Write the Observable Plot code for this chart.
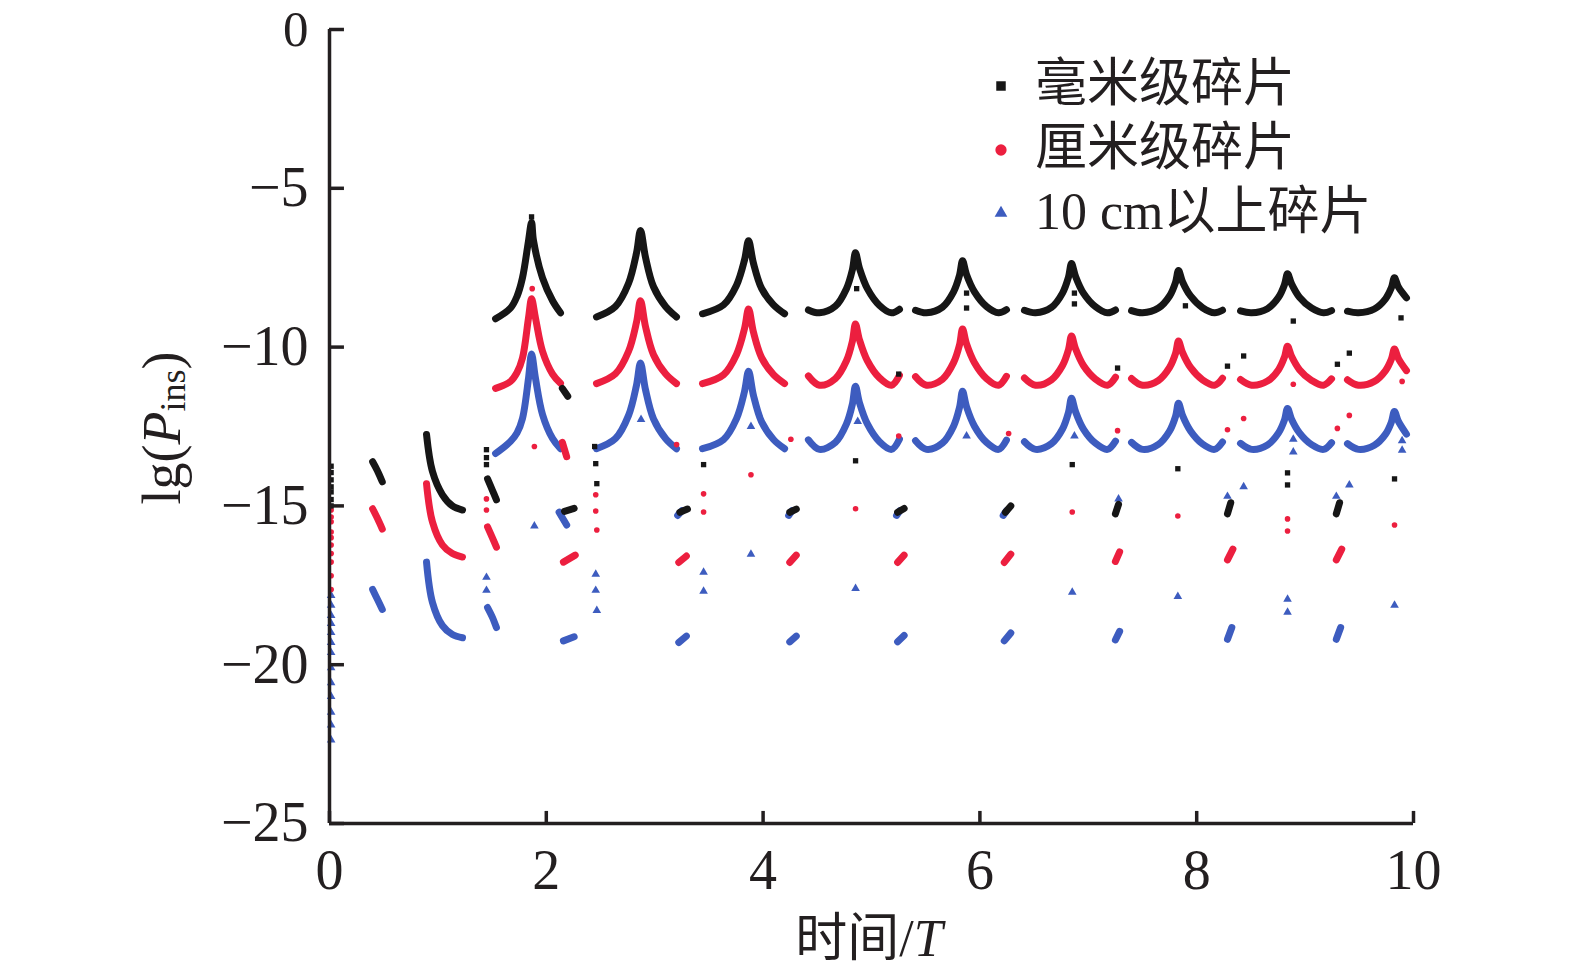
<!DOCTYPE html>
<html>
<head>
<meta charset="utf-8">
<script src="https://cdn.jsdelivr.net/npm/d3@7"></script>
<script src="https://cdn.jsdelivr.net/npm/@observablehq/plot@0.6"></script>
<style>
  html, body { margin: 0; padding: 0; background: #fff; overflow: hidden; width: 1575px; height: 977px; }
  #chart { width: 1575px; height: 977px; overflow: hidden; position: relative; }
  #chart svg { display: block; max-width: none !important; }
</style>
</head>
<body>
<div id="chart"></div>
<script>
// ---------- axes ----------
const xTicks = [0, 2, 4, 6, 8, 10];
const yTicks = [0, -5, -10, -15, -20, -25];
const seriesNames = ["毫米级碎片", "厘米级碎片", "10 cm以上碎片"];
const seriesColors = ["#161616", "#ec1f3f", "#3d5cbf"];

// ---------- early curve pieces (time/T, lg P) ----------
const mmEarly = [
  [[0.398,-13.61],[0.443,-13.9],[0.487,-14.24]],
  [[0.895,-12.75],[0.950,-13.92],[1.042,-14.65],[1.134,-15.0],[1.227,-15.13]],
  [[1.458,-14.15],[1.502,-14.5],[1.540,-14.81]],
  [[1.532,-9.11],[1.670,-8.77],[1.730,-8.4],[1.780,-7.82],[1.836,-6.65],[1.864,-6.08],[1.882,-6.65],[1.965,-7.82],[2.058,-8.54],[2.131,-8.92]],
  [[2.148,-11.3],[2.198,-11.55]]
];
const cmEarly = [
  [[0.398,-15.09],[0.443,-15.4],[0.487,-15.73]],
  [[0.895,-14.30],[0.950,-15.51],[1.042,-16.23],[1.134,-16.5],[1.227,-16.61]],
  [[1.458,-15.66],[1.502,-16.0],[1.540,-16.30]],
  [[1.532,-11.30],[1.670,-11.08],[1.730,-10.8],[1.780,-10.35],[1.836,-9.08],[1.864,-8.48],[1.900,-9.08],[1.965,-10.13],[2.058,-10.85],[2.131,-11.14]],
  [[2.148,-13.0],[2.188,-13.45]]
];
const dmEarly = [
  [[0.398,-17.63],[0.443,-17.95],[0.487,-18.26]],
  [[0.895,-16.77],[0.950,-18.04],[1.042,-18.77],[1.134,-19.05],[1.227,-19.15]],
  [[1.458,-18.2],[1.502,-18.5],[1.540,-18.83]],
  [[1.532,-13.35],[1.670,-12.97],[1.730,-12.7],[1.780,-12.25],[1.836,-10.98],[1.864,-10.22],[1.900,-10.98],[1.965,-12.12],[2.058,-12.88],[2.131,-13.20]],
  [[2.118,-15.2],[2.188,-15.6]]
];

// ---------- periodic cusps 2..9: x read per cusp, y per series ----------
const cuspX = [
  [2.463,2.638,2.759,2.832,2.869,2.915,2.989,3.100,3.201],
  [3.441,3.635,3.755,3.829,3.866,3.911,3.986,4.096,4.198],
  [4.418,4.520,4.667,4.769,4.824,4.852,4.889,4.962,5.074,5.184,5.258],
  [5.406,5.507,5.655,5.757,5.812,5.840,5.876,5.950,6.061,6.172,6.245],
  [6.411,6.513,6.660,6.762,6.817,6.845,6.882,6.955,7.067,7.177,7.251],
  [7.399,7.500,7.647,7.750,7.805,7.832,7.869,7.943,8.054,8.165,8.238],
  [8.404,8.506,8.653,8.755,8.810,8.838,8.875,8.948,9.060,9.170,9.244],
  [9.391,9.492,9.639,9.742,9.796,9.824,9.861,9.935]
];
const mmCuspY = [
  [-9.05,-8.72,-7.99,-7.04,-6.33,-7.17,-8.10,-8.72,-9.05],
  [-8.95,-8.67,-8.05,-7.25,-6.65,-7.36,-8.15,-8.67,-8.95],
  [-8.83,-8.92,-8.71,-8.16,-7.56,-7.03,-7.52,-8.16,-8.69,-8.92,-8.81],
  [-8.84,-8.92,-8.74,-8.26,-7.74,-7.28,-7.71,-8.26,-8.72,-8.92,-8.82],
  [-8.84,-8.92,-8.75,-8.30,-7.80,-7.37,-7.77,-8.30,-8.73,-8.92,-8.83],
  [-8.85,-8.92,-8.77,-8.39,-7.96,-7.59,-7.94,-8.39,-8.76,-8.92,-8.84],
  [-8.86,-8.92,-8.79,-8.43,-8.03,-7.69,-8.01,-8.43,-8.77,-8.92,-8.85],
  [-8.87,-8.92,-8.80,-8.48,-8.13,-7.82,-8.11,-8.45]
];
const cmCuspY = [
  [-11.15,-10.84,-10.13,-9.22,-8.54,-9.35,-10.24,-10.84,-11.15],
  [-11.15,-10.87,-10.23,-9.41,-8.8,-9.53,-10.33,-10.87,-11.15],
  [-10.91,-11.2,-10.99,-10.43,-9.81,-9.27,-9.77,-10.43,-10.97,-11.2,-10.89],
  [-10.93,-11.2,-11.01,-10.49,-9.93,-9.43,-9.89,-10.49,-10.99,-11.2,-10.92],
  [-10.97,-11.2,-11.03,-10.58,-10.08,-9.65,-10.05,-10.58,-11.01,-11.2,-10.95],
  [-10.99,-11.2,-11.05,-10.64,-10.20,-9.81,-10.17,-10.64,-11.03,-11.2,-10.98],
  [-11.02,-11.2,-11.07,-10.71,-10.31,-9.97,-10.29,-10.71,-11.05,-11.2,-11.0],
  [-11.03,-11.2,-11.08,-10.74,-10.38,-10.06,-10.36,-10.74]
];
const dmCuspY = [
  [-13.2,-12.88,-12.15,-11.2,-10.5,-11.34,-12.26,-12.88,-13.2],
  [-13.2,-12.91,-12.25,-11.39,-10.76,-11.52,-12.35,-12.91,-13.2],
  [-12.92,-13.22,-13.0,-12.42,-11.79,-11.23,-11.75,-12.42,-12.98,-13.22,-12.9],
  [-12.95,-13.22,-13.02,-12.49,-11.9,-11.39,-11.87,-12.49,-13.0,-13.22,-12.93],
  [-12.98,-13.22,-13.04,-12.58,-12.06,-11.61,-12.03,-12.58,-13.03,-13.22,-12.96],
  [-13.0,-13.22,-13.06,-12.64,-12.18,-11.77,-12.15,-12.64,-13.05,-13.22,-12.99],
  [-13.03,-13.22,-13.08,-12.70,-12.29,-11.93,-12.27,-12.70,-13.07,-13.22,-13.01],
  [-13.04,-13.22,-13.09,-12.74,-12.36,-12.03,-12.34,-12.74]
];

// ---------- short blobs near the end of each period ----------
const mmBits = [
  [[2.168,-15.17],[2.257,-15.08]], [[3.232,-15.2],[3.302,-15.1]], [[4.246,-15.2],[4.306,-15.1]],
  [[5.241,-15.2],[5.301,-15.08]], [[6.235,-15.2],[6.285,-15.0]], [[7.250,-15.25],[7.279,-14.95]],
  [[8.284,-15.25],[8.314,-14.9]], [[9.288,-15.25],[9.318,-14.9]]
];
const cmBits = [
  [[2.158,-16.77],[2.267,-16.55]], [[3.222,-16.78],[3.292,-16.58]], [[4.246,-16.78],[4.306,-16.55]],
  [[5.241,-16.78],[5.301,-16.55]], [[6.225,-16.78],[6.285,-16.52]], [[7.250,-16.75],[7.289,-16.45]],
  [[8.284,-16.7],[8.334,-16.36]], [[9.288,-16.7],[9.338,-16.36]]
];
const dmBits = [
  [[2.158,-19.25],[2.257,-19.12]], [[3.222,-19.3],[3.292,-19.1]], [[4.246,-19.28],[4.306,-19.1]],
  [[5.241,-19.28],[5.301,-19.08]], [[6.225,-19.25],[6.285,-19.0]], [[7.250,-19.22],[7.289,-18.95]],
  [[8.284,-19.2],[8.324,-18.83]], [[9.288,-19.2],[9.328,-18.83]],
  [[3.212,-15.3],[3.252,-15.15]], [[4.236,-15.3],[4.266,-15.15]], [[5.231,-15.3],[5.261,-15.15]],
  [[6.215,-15.3],[6.245,-15.15]]
];

// ---------- isolated points ----------
const mmDots = [
  [0.015,-13.75],[0.015,-13.95],[0.015,-14.18],[0.015,-14.4],[0.015,-14.56],[0.015,-14.8],[0.015,-15.0],
  [1.448,-13.23],[1.448,-13.48],[1.448,-13.70],
  [2.446,-13.13],[2.456,-13.67],[2.466,-14.3],[3.451,-13.7],
  [1.864,-5.9],[4.863,-8.16],[5.877,-8.3],[5.877,-8.77],[6.872,-8.3],[6.872,-8.64],[7.896,-8.7],[8.891,-9.18],[9.885,-9.08],
  [4.853,-13.58],[6.852,-13.7],[7.826,-13.83],[8.838,-13.96],[8.838,-14.34],[9.825,-14.15],
  [5.251,-10.85],[7.270,-10.66],[8.284,-10.6],[8.433,-10.28],[9.298,-10.54],[9.408,-10.19]
];
const cmDots = [
  [0.015,-15.13],[0.015,-15.35],[0.015,-15.5],[0.015,-15.82],[0.015,-16.0],[0.015,-16.23],[0.015,-16.5],[0.015,-16.77],[0.015,-17.2],[0.015,-17.63],
  [1.448,-14.78],[1.448,-15.13],[1.890,-13.13],[1.870,-8.16],
  [2.456,-14.65],[2.456,-15.16],[2.466,-15.76],[3.451,-14.62],[3.451,-15.19],[3.888,-14.02],
  [4.853,-15.09],[6.852,-15.19],[7.826,-15.32],[8.838,-15.41],[8.838,-15.79],[9.825,-15.6],
  [3.202,-13.07],[4.256,-12.9],[5.251,-12.8],[6.265,-12.72],[7.270,-12.63],[8.284,-12.6],[8.433,-12.25],[9.298,-12.56],[9.408,-12.15],
  [8.891,-11.17],[9.895,-11.08]
];
const dmDots = [
  [0.015,-17.82],[0.015,-18.13],[0.015,-18.45],[0.015,-18.7],[0.015,-18.99],[0.015,-19.3],[0.015,-19.62],[0.015,-20.1],[0.015,-20.57],[0.015,-21.0],[0.015,-21.5],[0.015,-21.9],[0.015,-22.37],
  [1.448,-17.25],[1.448,-17.66],[1.890,-15.63],
  [2.456,-17.15],[2.456,-17.66],[2.466,-18.29],[3.451,-17.09],[3.451,-17.69],
  [3.888,-16.52],[2.874,-12.28],[3.888,-12.5],[4.873,-12.34],[5.877,-12.8],[6.872,-12.8],
  [4.853,-17.6],[6.852,-17.72],[7.826,-17.85],[8.838,-17.94],[8.838,-18.35],[9.825,-18.13],
  [7.279,-14.78],[8.284,-14.7],[8.433,-14.4],[9.288,-14.7],[9.408,-14.34],
  [8.891,-12.9],[8.891,-13.3],[9.895,-12.95],[9.895,-13.25]
];

// ---------- build tables ----------
function curveRows(early, cx, cy, bits, s) {
  const rows = [];
  early.forEach((c, i) => c.forEach(([x, y]) => rows.push({s, id: `${s}-e${i}`, x, y})));
  cx.forEach((xs, i) => xs.forEach((x, j) => rows.push({s, id: `${s}-c${i}`, x, y: cy[i][j]})));
  bits.forEach((c, i) => c.forEach(([x, y]) => rows.push({s, id: `${s}-b${i}`, x, y})));
  return rows;
}
const mmRows = curveRows(mmEarly, cuspX, mmCuspY, mmBits, 0);
const cmRows = curveRows(cmEarly, cuspX, cmCuspY, cmBits, 1);
const dmRows = curveRows(dmEarly, cuspX, dmCuspY, dmBits, 2);
const toPts = (arr) => arr.map(([x, y]) => ({x, y}));

const fmt = d => d < 0 ? "\u2212" + Math.abs(d) : String(d);
const axisColor = "#231f20";
const lineOpts = (color) => ({x: "x", y: "y", z: "id", stroke: color, strokeWidth: 7, curve: "catmull-rom", strokeLinecap: "round", strokeLinejoin: "round"});

const plot = Plot.plot({
  width: 1575,
  height: 977,
  marginLeft: 329,
  marginRight: 162,
  marginTop: 29,
  marginBottom: 154,
  x: {domain: [0, 10]},
  y: {domain: [-25, 0], axis: null},
  style: {fontFamily: "'Liberation Serif', 'Noto Sans CJK SC', serif", fontSize: "56px", color: axisColor, background: "#fff", overflow: "hidden"},
  marks: [
    Plot.line(dmRows, lineOpts(seriesColors[2])),
    Plot.dot(toPts(dmDots), {x: "x", y: "y", symbol: "triangle", r: 3.2, fill: seriesColors[2]}),
    Plot.line(cmRows, lineOpts(seriesColors[1])),
    Plot.dot(toPts(cmDots), {x: "x", y: "y", symbol: "circle", r: 2.8, fill: seriesColors[1]}),
    Plot.line(mmRows, lineOpts(seriesColors[0])),
    Plot.dot(toPts(mmDots), {x: "x", y: "y", symbol: "square", r: 3, fill: seriesColors[0]}),
    Plot.ruleX([0], {stroke: axisColor, strokeWidth: 3.5}),
    Plot.ruleY([-25], {stroke: axisColor, strokeWidth: 3.5}),
    Plot.ruleY(yTicks, {x1: 0, x2: 0.138, stroke: axisColor, strokeWidth: 3.5}),
    Plot.ruleX(xTicks, {y1: -25, y2: -24.62, stroke: axisColor, strokeWidth: 3.5}),
    Plot.axisX({ticks: xTicks, tickSize: 0, tickPadding: 26, tickFormat: fmt, label: null}),
    Plot.text(yTicks, {x: 0, y: d => d, text: fmt, textAnchor: "end", lineAnchor: "middle", dx: -21, fontSize: d => d === 0 ? 51 : 56, fill: axisColor})
  ]
});

document.getElementById("chart").appendChild(plot);

// ---------- axis titles & legend (real text) ----------
const svg = d3.select(plot);
const fontFam = "'Liberation Serif', 'Noto Sans CJK SC', serif";

const yt = svg.append("text")
  .attr("transform", "translate(162,428) rotate(-90)")
  .attr("text-anchor", "middle")
  .attr("dominant-baseline", "central")
  .attr("fill", axisColor)
  .style("font-family", fontFam)
  .style("font-size", "54px");
yt.append("tspan").text("lg(");
yt.append("tspan").attr("font-style", "italic").text("P");
yt.append("tspan").attr("font-size", "36px").attr("dy", 11).text("ins");
yt.append("tspan").attr("dy", -11).text(")");

const xt = svg.append("text")
  .attr("x", 869).attr("y", 938)
  .attr("text-anchor", "middle")
  .attr("dominant-baseline", "central")
  .attr("fill", axisColor)
  .style("font-family", fontFam)
  .style("font-size", "52px");
xt.append("tspan").text("时间/");
xt.append("tspan").attr("font-style", "italic").text("T");

const legendMarkY = [86, 150, 213];
const legendTextY = [83, 147, 211];
const legendSymbols = [d3.symbolSquare, d3.symbolCircle, d3.symbolTriangle];
const legendSizes = [90, 100, 70];
seriesNames.forEach((name, i) => {
  svg.append("path")
    .attr("transform", `translate(1001,${legendMarkY[i]})`)
    .attr("d", d3.symbol(legendSymbols[i], legendSizes[i])())
    .attr("fill", seriesColors[i]);
  svg.append("text")
    .attr("x", 1035).attr("y", legendTextY[i])
    .attr("text-anchor", "start")
    .attr("dominant-baseline", "central")
    .attr("fill", axisColor)
    .style("font-family", fontFam)
    .style("font-size", "52px")
    .text(name);
});
</script>
</body>
</html>
